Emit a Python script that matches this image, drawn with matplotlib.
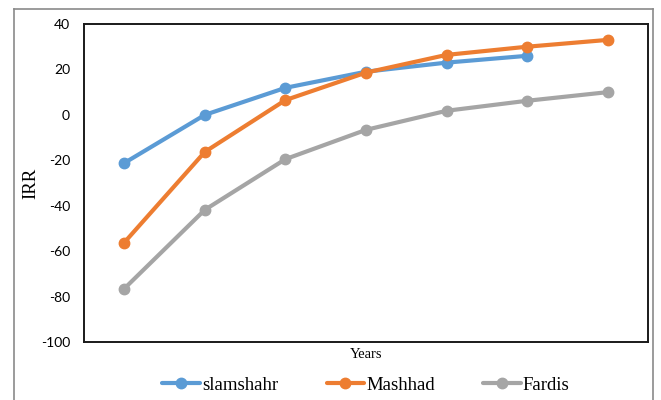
import matplotlib
matplotlib.use("Agg")
import matplotlib.pyplot as plt
from matplotlib.lines import Line2D

plt.rcParams["axes.unicode_minus"] = False

years = [1, 2, 3, 4, 5, 6, 7]
islamshahr = [-21.2, 0.0, 11.9, 19.0, 23.0, 26.0]
mashhad = [-56.2, -16.3, 6.5, 18.6, 26.4, 30.0, 33.0]
fardis = [-76.5, -41.8, -19.5, -6.6, 1.8, 6.2, 10.0]
yticks = [-100, -80, -60, -40, -20, 0, 20, 40]

c_blue = "#5B9BD5"
c_orange = "#ED7D31"
c_gray = "#A5A5A5"

fig = plt.figure(figsize=(6.61, 4.00), dpi=100)
ax = fig.add_axes([84/661, 1-342/400, (648-84)/661, (342-24)/400])

kw = dict(lw=3.0, marker="o", ms=7.5, solid_capstyle="round")
ax.plot(years[:len(islamshahr)], islamshahr, color=c_blue, label="slamshahr", **kw)
ax.plot(years, mashhad, color=c_orange, label="Mashhad", **kw)
ax.plot(years, fardis, color=c_gray, label="Fardis", **kw)

ax.set_xlim(0.5, 7.5)
ax.set_ylim(-100, 40)
ax.set_yticks(yticks)
ax.set_xticks([])
ax.tick_params(axis="y", length=0, pad=10, labelsize=10)
for lab in ax.get_yticklabels():
    lab.set_family("Lato")
for s in ax.spines.values():
    s.set_linewidth(1.4)
    s.set_color("#1a1a1a")

ax.set_ylabel("IRR", family="Liberation Serif", fontsize=13.5, labelpad=1)
ax.set_xlabel("Years", family="Liberation Serif", fontsize=10.5, labelpad=4)

fig.legend(loc="center", bbox_to_anchor=(366/661, 1-385/400), ncol=3, frameon=False,
           prop={"family": "Liberation Serif", "size": 13.5},
           handlelength=2.0, handletextpad=0.1, columnspacing=2.6)

# outer frame
fc = "#8a8a8a"
fig.add_artist(Line2D([14/661, 14/661], [0, 1-9/400], color=fc, lw=1.2, transform=fig.transFigure))
fig.add_artist(Line2D([14/661, 653/661], [1-9/400, 1-9/400], color=fc, lw=1.2, transform=fig.transFigure))
fig.add_artist(Line2D([653/661, 653/661], [0, 1-9/400], color=fc, lw=1.2, transform=fig.transFigure))

fig.savefig("out.png", dpi=100)
